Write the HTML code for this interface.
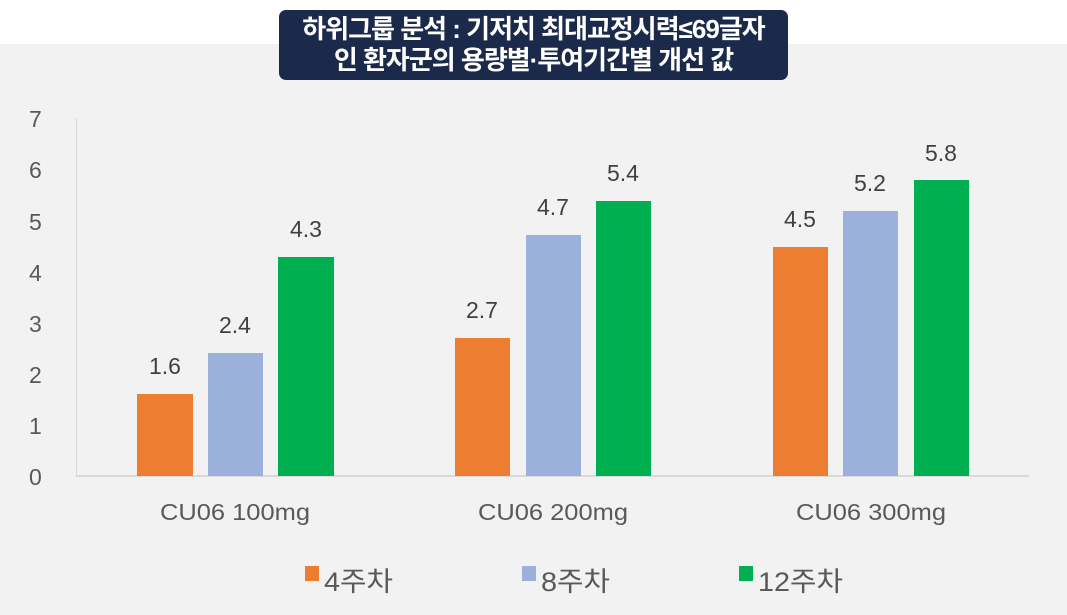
<!DOCTYPE html>
<html><head><meta charset="utf-8"><style>
body{margin:0;width:1067px;height:615px;background:#fff;position:relative;overflow:hidden;font-family:"Liberation Sans","Noto Sans CJK KR",sans-serif}
.bg{position:absolute;left:0;top:44px;width:1067px;height:571px;background:#f2f2f2}
.title{position:absolute;left:279px;top:10px;width:509px;height:70px;background:#1b2a4a;border-radius:7px;color:#fff;font-weight:bold;font-size:26px;line-height:31px;text-align:center;padding-top:4px;box-sizing:border-box;letter-spacing:-1px;white-space:nowrap}
</style></head><body>
<div class="bg"></div>
<div class="title">하위그룹 분석 : 기저치 최대교정시력≤69글자<br>인 환자군의 용량별·투여기간별 개선 값</div>
<svg width="1067" height="615" style="position:absolute;left:0;top:0">
<line x1="76.5" y1="118" x2="76.5" y2="476" stroke="#d9d9d9" stroke-width="1"/>
<line x1="76" y1="476" x2="1029" y2="476" stroke="#d9d9d9" stroke-width="2"/>
<g font-family="Liberation Sans, sans-serif" font-size="23" fill="#595959">
<text x="29" y="485">0</text><text x="29" y="434">1</text><text x="29" y="383">2</text><text x="29" y="332">3</text><text x="29" y="281">4</text><text x="29" y="230">5</text><text x="29" y="178">6</text><text x="29" y="127">7</text>
</g>
<g>
<rect x="137" y="394" width="56" height="82" fill="#ed7d31"/>
<rect x="208" y="353" width="55" height="123" fill="#9bb0da"/>
<rect x="278" y="257" width="56" height="219" fill="#00b050"/>
<rect x="455" y="338" width="55" height="138" fill="#ed7d31"/>
<rect x="526" y="235" width="55" height="241" fill="#9bb0da"/>
<rect x="596" y="201" width="55" height="275" fill="#00b050"/>
<rect x="773" y="247" width="55" height="229" fill="#ed7d31"/>
<rect x="843" y="211" width="55" height="265" fill="#9bb0da"/>
<rect x="914" y="180" width="55" height="296" fill="#00b050"/>
</g>
<g font-family="Liberation Sans, sans-serif" font-size="23" fill="#404040" text-anchor="middle">
<text x="165" y="374">1.6</text><text x="235" y="333">2.4</text><text x="306" y="237">4.3</text>
<text x="482" y="318">2.7</text><text x="553" y="215">4.7</text><text x="623" y="181">5.4</text>
<text x="800" y="227">4.5</text><text x="870" y="191">5.2</text><text x="941" y="161">5.8</text>
</g>
<g font-family="Liberation Sans, sans-serif" font-size="23" fill="#595959" text-anchor="middle">
<text x="235" y="520" textLength="150" lengthAdjust="spacingAndGlyphs">CU06 100mg</text><text x="553" y="520" textLength="150" lengthAdjust="spacingAndGlyphs">CU06 200mg</text><text x="871" y="520" textLength="150" lengthAdjust="spacingAndGlyphs">CU06 300mg</text>
</g>
<rect x="305" y="566" width="14" height="15" fill="#ed7d31"/>
<rect x="522" y="566" width="14" height="15" fill="#9bb0da"/>
<rect x="739" y="566" width="14" height="15" fill="#00b050"/>
<g font-family="Liberation Sans, Noto Sans CJK KR, sans-serif" font-size="27" fill="#595959">
<text x="324" y="591" textLength="69" lengthAdjust="spacingAndGlyphs">4주차</text><text x="541" y="591" textLength="69" lengthAdjust="spacingAndGlyphs">8주차</text><text x="758" y="591" textLength="85" lengthAdjust="spacingAndGlyphs">12주차</text>
</g>
</svg>
</body></html>
